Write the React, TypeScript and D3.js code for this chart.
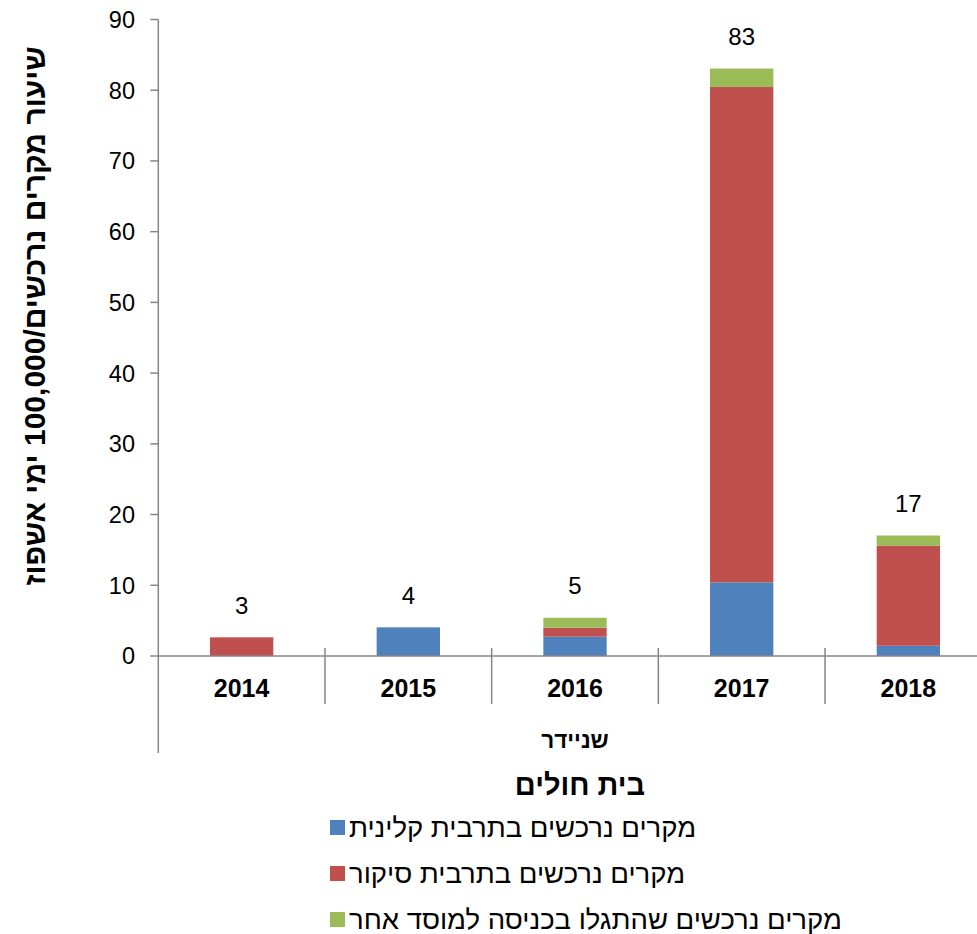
import React from "react";
import * as d3 from "d3";

const categories = ["2014", "2015", "2016", "2017", "2018"];
const clinical = [0, 4.05, 2.73, 10.41, 1.45];
const surveillance = [2.64, 0, 1.27, 70.05, 14.13];
const admission = [0, 0, 1.41, 2.6, 1.46];
const yTicks = [0, 10, 20, 30, 40, 50, 60, 70, 80, 90];
const seriesNames = [
  "מקרים נרכשים בתרבית קלינית",
  "מקרים נרכשים בתרבית סיקור",
  "מקרים נרכשים שהתגלו בכניסה למוסד אחר",
];
const seriesColors = ["#4F81BD", "#C0504D", "#9BBB59"];
const groupLabel = "שניידר";
const legendTitle = "בית חולים";
const yTitle = "שיעור מקרים נרכשים/100,000 ימי אשפוז";

const W = 977;
const H = 934;
const left = 158.3;
const right = 991.7;
const top = 19.5;
const bottom = 656;
const font = "'Liberation Sans', Arial, sans-serif";
const axisColor = "#868686";

export default function App() {
  const x = d3.scaleBand<string>().domain(categories).range([left, right]).paddingInner(0).paddingOuter(0);
  const y = d3.scaleLinear().domain([0, 90]).range([bottom, top]);
  const rows = categories.map((c, i) => ({
    cat: c,
    s0: clinical[i],
    s1: surveillance[i],
    s2: admission[i],
  }));
  const stack = d3.stack<any>().keys(["s0", "s1", "s2"]);
  const layers = stack(rows);
  const bw = x.bandwidth() * 0.38;
  const totals = rows.map((r) => r.s0 + r.s1 + r.s2);

  return (
    <svg width={W} height={H} style={{ position: "absolute", left: 0, top: 0, background: "#fff" }}>
      <rect x={0} y={0} width={W} height={H} fill="#fff" />
      {/* bars */}
      {layers.map((layer, li) =>
        layer.map((d, i) => {
          const h = y(d[0]) - y(d[1]);
          if (h <= 0.01) return null;
          const cx = (x(categories[i]) as number) + x.bandwidth() / 2;
          return (
            <rect
              key={`${li}-${i}`}
              x={cx - bw / 2}
              y={y(d[1])}
              width={bw}
              height={h}
              fill={seriesColors[li]}
            />
          );
        })
      )}
      {/* y axis */}
      <line x1={left} x2={left} y1={top} y2={753} stroke={axisColor} strokeWidth={1.5} />
      {yTicks.map((t) => (
        <g key={t}>
          <line x1={left - 8} x2={left} y1={y(t)} y2={y(t)} stroke={axisColor} strokeWidth={1.5} />
          <text
            x={135}
            y={y(t)}
            dy="0.36em"
            textAnchor="end"
            fontFamily={font}
            fontSize={23.5}
            fill="#000"
          >
            {t}
          </text>
        </g>
      ))}
      {/* x axis */}
      <line x1={left} x2={right} y1={bottom} y2={bottom} stroke={axisColor} strokeWidth={1.5} />
      {categories.map((c, i) => (
        <line
          key={c}
          x1={(x(c) as number) + x.bandwidth()}
          x2={(x(c) as number) + x.bandwidth()}
          y1={648}
          y2={704}
          stroke={axisColor}
          strokeWidth={1.5}
        />
      ))}
      {categories.map((c) => (
        <text
          key={c}
          x={(x(c) as number) + x.bandwidth() / 2}
          y={697}
          textAnchor="middle"
          fontFamily={font}
          fontWeight="bold"
          fontSize={25}
          fill="#000"
        >
          {c}
        </text>
      ))}
      <text
        x={(left + right) / 2}
        y={748}
        textAnchor="middle"
        fontFamily={font}
        fontWeight="bold"
        fontSize={22.5}
        fill="#000"
      >
        {groupLabel}
      </text>
      {/* data labels */}
      {categories.map((c, i) => (
        <text
          key={c}
          x={(x(c) as number) + x.bandwidth() / 2}
          y={y(totals[i]) - 32}
          dy="0.36em"
          textAnchor="middle"
          fontFamily={font}
          fontSize={24}
          fill="#000"
        >
          {Math.round(totals[i])}
        </text>
      ))}
      {/* y title */}
      <text
        transform={`translate(34, 316) rotate(-90)`}
        textAnchor="middle"
        dy="0.36em"
        fontFamily={font}
        fontWeight="bold"
        fontSize={30}
        fill="#000"
        style={{ direction: "rtl" }}
      >
        {yTitle}
      </text>
      {/* legend */}
      <text
        x={580}
        y={795}
        textAnchor="middle"
        fontFamily={font}
        fontWeight="bold"
        fontSize={29}
        fill="#000"
      >
        {legendTitle}
      </text>
      {seriesNames.map((n, i) => (
        <g key={n}>
          <rect x={330} y={820 + i * 46} width={15} height={15} fill={seriesColors[i]} />
          <text
            x={349}
            y={827.5 + i * 46}
            dy="0.36em"
            textAnchor="start"
            fontFamily={font}
            fontSize={27.5}
            fill="#000"
          >
            {n}
          </text>
        </g>
      ))}
    </svg>
  );
}
